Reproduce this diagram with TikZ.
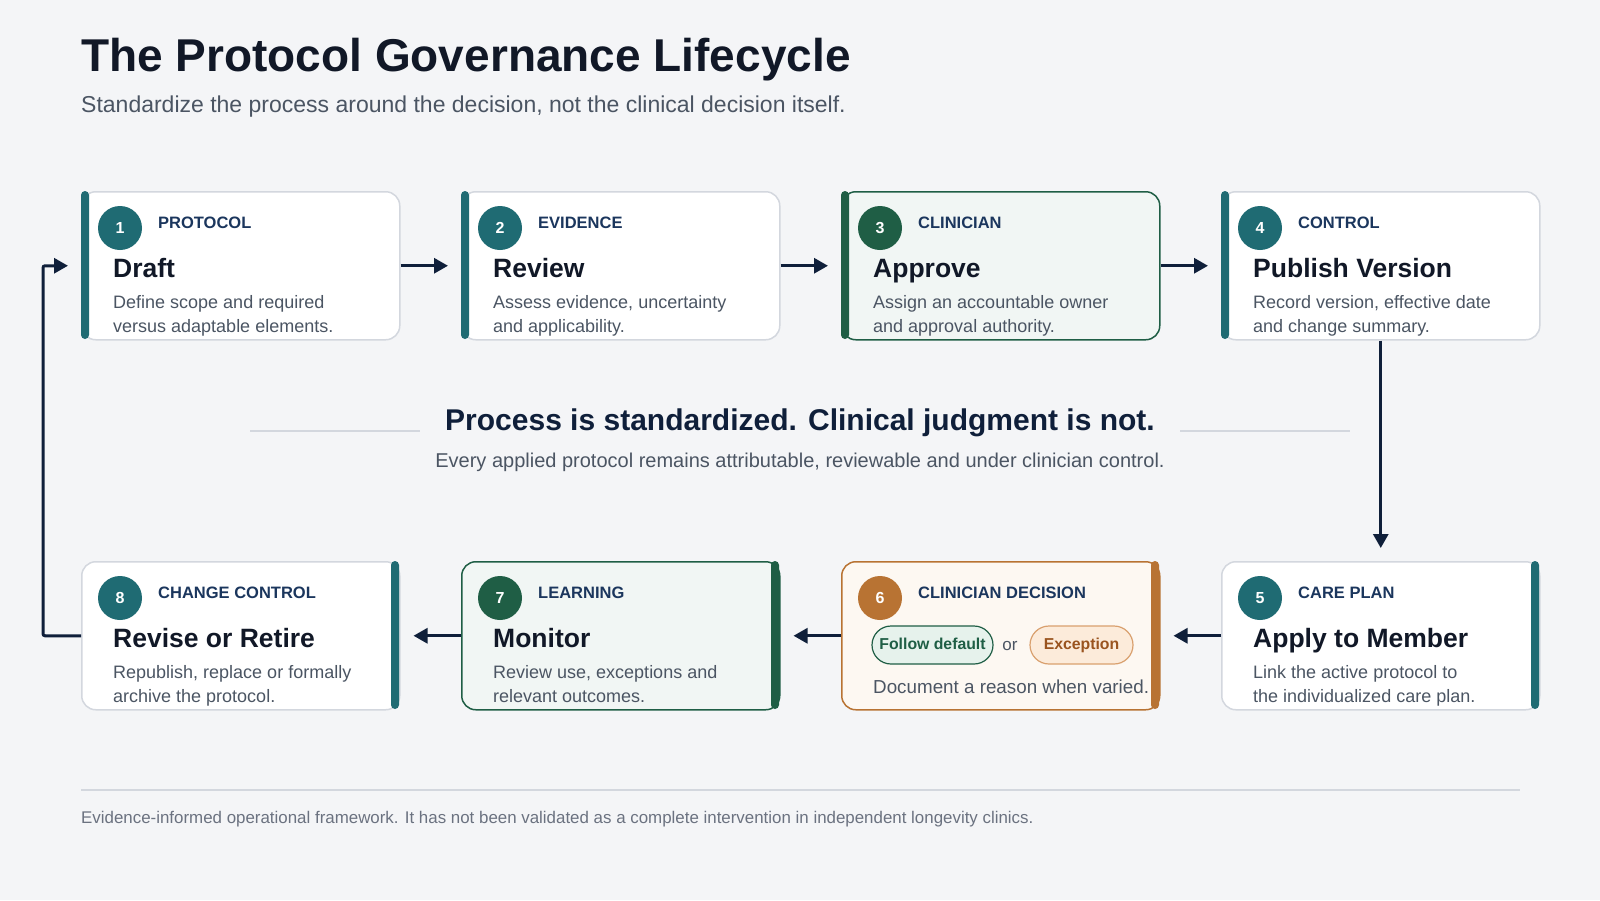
\documentclass[tikz,border=0pt]{standalone}
\usepackage{fontspec}
\setmainfont{Liberation Sans}
\usetikzlibrary{arrows.meta,calc}
\definecolor{bg}{HTML}{F4F5F7}
\definecolor{cteal}{HTML}{1F6B73}
\definecolor{cgreen}{HTML}{1F5E45}
\definecolor{corange}{HTML}{B87333}
\definecolor{navy}{HTML}{0F1F3A}
\definecolor{catc}{HTML}{1B365D}
\definecolor{ttl}{HTML}{111827}
\definecolor{desc}{HTML}{4B5563}
\definecolor{bord}{HTML}{D3D7DE}
\definecolor{gfill}{HTML}{F1F6F4}
\definecolor{ofill}{HTML}{FDF8F2}
\definecolor{foot}{HTML}{6B7280}
\definecolor{pillg}{HTML}{E6F2EC}
\definecolor{pillo}{HTML}{FCEBDA}
\definecolor{pillob}{HTML}{D9A06E}
\definecolor{exc}{HTML}{9A541F}
\tikzset{
  card/.style={draw=bord, line width=1.5pt, fill=white, rounded corners=14pt,
    minimum width=318pt, minimum height=148pt, inner sep=0pt, anchor=north west},
  gcard/.style={card, draw=cgreen, fill=gfill},
  ocard/.style={card, draw=corange, fill=ofill},
  numc/.style={circle, minimum size=44pt, inner sep=0pt, text=white,
    font=\fontsize{16}{16}\selectfont\bfseries},
  cat/.style={anchor=base west, text=catc, inner sep=0pt,
    font=\fontsize{16.5}{20}\selectfont\bfseries},
  ttlf/.style={anchor=base west, text=ttl, inner sep=0pt,
    font=\fontsize{26.5}{30}\selectfont\bfseries},
  dsc/.style={anchor=base west, text=desc, inner sep=0pt,
    font=\fontsize{18}{24}\selectfont},
  pill/.style={rounded corners=19pt, line width=1.2pt, minimum height=38pt,
    inner sep=0pt, text height=11.5pt, text depth=3.5pt,
    font=\fontsize{15.8}{18}\selectfont\bfseries},
  arr/.style={draw=navy, line width=3pt, -{Triangle[length=14pt,width=15pt]}},
  rule/.style={draw=bord, line width=2pt}
}
\newcommand\mkcard[8]{%
  \node[#4] (#1) at (#2,#3) {};
  \fill[#5, rounded corners=4pt] ($(#1.north west)+(#6,0)$) rectangle ++(8,148);
  \node[numc, fill=#5] (#1n) at ($(#1.north west)+(39,37)$) {#7};
  \node[cat] (#1c) at ($(#1.north west)+(77,37)$) {#8};
}
\newcommand\mktext[4]{%
  \node[ttlf] (#1t) at ($(#1.north west)+(32,86)$) {#2};
  \node[dsc] (#1d) at ($(#1.north west)+(32,117)$) {#3};
  \node[dsc] (#1e) at ($(#1.north west)+(32,141)$) {#4};
}
\begin{document}
\begin{tikzpicture}[x=1pt,y=-1pt]
\useasboundingbox (0,0) rectangle (1600,900);
\fill[bg] (0,0) rectangle (1600,900);

\node[anchor=base west, inner sep=0pt, text=ttl, font=\fontsize{46}{50}\selectfont\bfseries] (title) at (81,71) {The Protocol Governance Lifecycle};
\node[anchor=base west, inner sep=0pt, text=desc, font=\fontsize{23}{26}\selectfont] (subtitle) at (81,112.5) {Standardize the process around the decision, not the clinical decision itself.};

% row 1
\mkcard{b1}{81}{191}{card}{cteal}{0}{1}{PROTOCOL}
\mktext{b1}{Draft}{Define scope and required}{versus adaptable elements.}
\mkcard{b2}{461}{191}{card}{cteal}{0}{2}{EVIDENCE}
\mktext{b2}{Review}{Assess evidence, uncertainty}{and applicability.}
\mkcard{b3}{841}{191}{gcard}{cgreen}{0}{3}{CLINICIAN}
\mktext{b3}{Approve}{Assign an accountable owner}{and approval authority.}
\mkcard{b4}{1221}{191}{card}{cteal}{0}{4}{CONTROL}
\mktext{b4}{Publish Version}{Record version, effective date}{and change summary.}

% row 2
\mkcard{b5}{1221}{561}{card}{cteal}{310}{5}{CARE PLAN}
\mktext{b5}{Apply to Member}{Link the active protocol to}{the individualized care plan.}
\mkcard{b6}{841}{561}{ocard}{corange}{310}{6}{CLINICIAN DECISION}
\node[pill, draw=cgreen, fill=pillg, text=cgreen, minimum width=121pt] (p1) at ($(b6.north west)+(91.5,84)$) {Follow default};
\node[anchor=base, inner sep=0pt, text=desc, font=\fontsize{17}{20}\selectfont] (or) at ($(b6.north west)+(169,89)$) {or};
\node[pill, draw=pillob, fill=pillo, text=exc, minimum width=103pt] (p2) at ($(b6.north west)+(240.5,84)$) {Exception};
\node[dsc, font=\fontsize{18.8}{24}\selectfont] (b6d) at ($(b6.north west)+(32,132)$) {Document a reason when varied.};
\mkcard{b7}{461}{561}{gcard}{cgreen}{310}{7}{LEARNING}
\mktext{b7}{Monitor}{Review use, exceptions and}{relevant outcomes.}
\mkcard{b8}{81}{561}{card}{cteal}{310}{8}{CHANGE CONTROL}
\mktext{b8}{Revise or Retire}{Republish, replace or formally}{archive the protocol.}

% connectors
\draw[arr] (b1.east) -- ([xshift=-13pt]b2.west);
\draw[arr] (b2.east) -- ([xshift=-13pt]b3.west);
\draw[arr] (b3.east) -- ([xshift=-13pt]b4.west);
\draw[arr] (b4.south) -- ([yshift=13pt]b5.north);
\draw[arr] (b5.west) -- ([xshift=13pt]b6.east);
\draw[arr] (b6.west) -- ([xshift=13pt]b7.east);
\draw[arr] (b7.west) -- ([xshift=13pt]b8.east);
\draw[arr, rounded corners=2pt] (b8.west) -- ++(-38,0) |- ([xshift=-13pt]b1.west);

% middle statement
\node[anchor=base, inner sep=0pt, text=navy, font=\fontsize{30}{34}\selectfont\bfseries] (head) at (800,430) {Process is standardized. Clinical judgment is not.};
\draw[rule] (250,431) -- (420,431);
\draw[rule] (1180,431) -- (1350,431);
\node[anchor=base, inner sep=0pt, text=desc, font=\fontsize{20}{24}\selectfont] (headsub) at (800,467) {Every applied protocol remains attributable, reviewable and under clinician control.};

% footer
\draw[rule] (81,790) -- (1520,790);
\node[anchor=base west, inner sep=0pt, text=foot, font=\fontsize{16.9}{20}\selectfont] (foot) at (81,823) {Evidence-informed operational framework. It has not been validated as a complete intervention in independent longevity clinics.};
\end{tikzpicture}
\end{document}
